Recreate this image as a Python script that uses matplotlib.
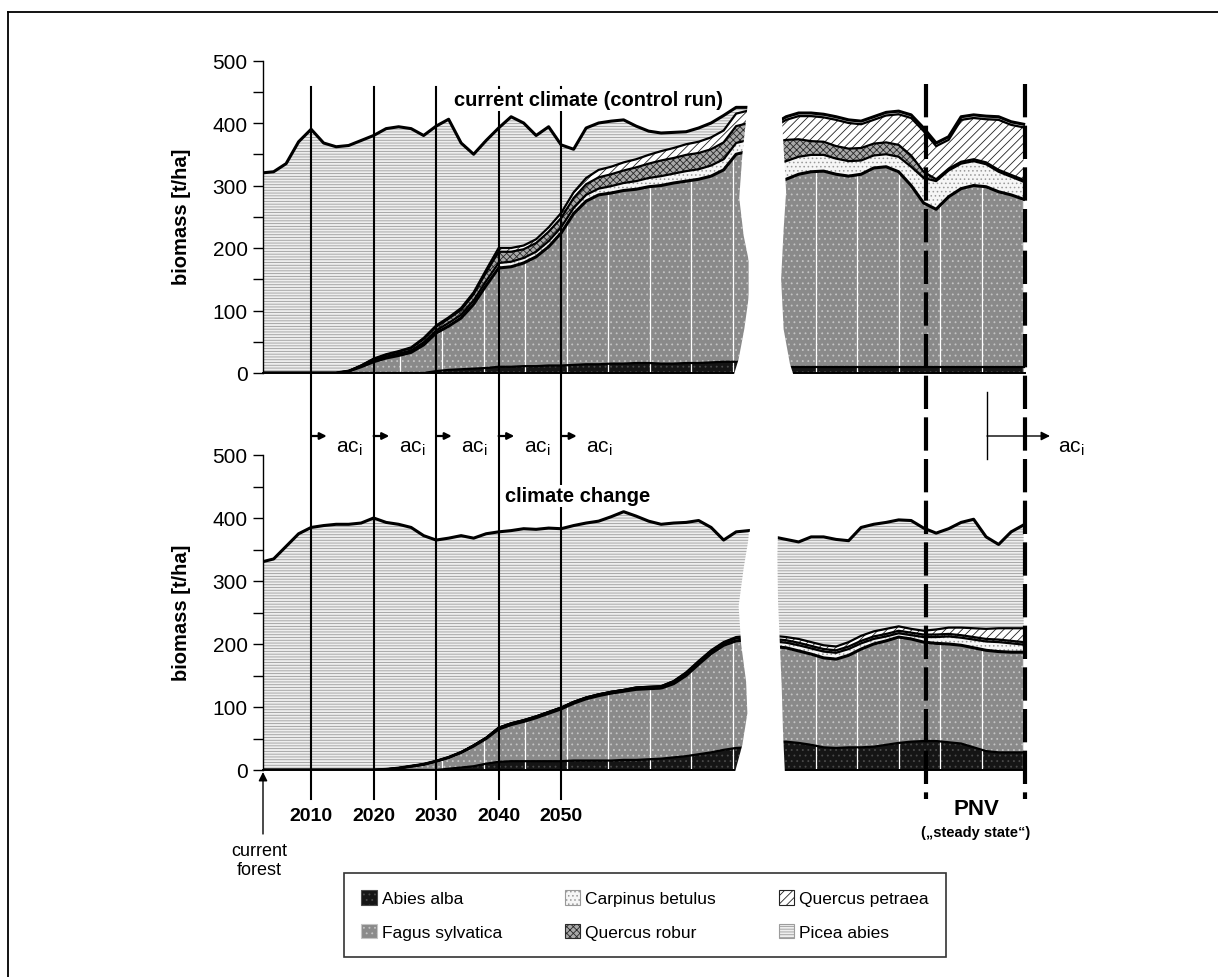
import numpy as np
import matplotlib.pyplot as plt
import matplotlib.transforms as mtrans
from matplotlib.patches import Patch, Polygon, FancyArrowPatch
from matplotlib.lines import Line2D
from matplotlib.path import Path

plt.rcParams['font.family'] = ['Liberation Sans', 'DejaVu Sans']
plt.rcParams['mathtext.default'] = 'regular'
plt.rcParams['hatch.linewidth'] = 0.6

# --- data -------------------------------------------------------------
species = ['Abies alba', 'Fagus sylvatica', 'Carpinus betulus',
           'Quercus robur', 'Quercus petraea', 'Picea abies']

years_a = np.arange(2002, 2081, 2)      # simulation until the break
years_b = np.arange(2084, 2125, 2)      # PNV period after the break

# current climate (control run), biomass t/ha
cc_abies_a = [0] * 14 + [3, 5, 6, 7, 8, 10, 10, 11, 11, 12, 12, 13, 14, 14, 15, 15,
                         16, 16, 15, 15, 16, 16, 17, 18, 18, 18]
cc_fagus_a = [0, 0, 0, 0, 0, 0, 0, 3, 10, 18, 24, 28, 33, 45, 61, 70, 82, 103, 132, 158,
              160, 165, 175, 190, 212, 242, 261, 271, 273, 277, 278, 282, 285, 289, 291,
              294, 298, 307, 332, 337]
cc_carpinus_a = [0] * 8 + [1, 2, 2, 3, 3, 4, 4, 5, 5, 6, 7, 8, 8, 8, 8, 9, 9, 9, 10, 10,
                           11, 12, 13, 14, 15, 15, 16, 16, 17, 17, 18, 18]
cc_qrobur_a = [0] * 8 + [1, 2, 3, 3, 4, 5, 6, 7, 8, 10, 14, 18, 16, 14, 14, 15, 15, 16,
                         17, 18, 19, 20, 22, 23, 25, 25, 26, 26, 26, 27, 27, 27]
cc_qpetraea_a = [0] * 9 + [1, 1, 1, 1, 2, 2, 2, 3, 3, 4, 6, 6, 6, 6, 7, 8, 9, 10, 12, 12,
                           13, 13, 14, 15, 16, 17, 18, 19, 19, 20, 20]
cc_picea_a = [320, 322, 335, 370, 390, 368, 362, 361, 360, 357, 361, 359, 350, 324, 319,
              317, 264, 221, 207, 192, 210, 196, 166, 161, 109, 69, 80, 75, 73, 68, 53,
              38, 29, 25, 20, 22, 23, 24, 10, 5]

cc_abies_b = [9] * 21
cc_fagus_b = [296, 301, 309, 313, 314, 309, 306, 309, 319, 321, 313, 291, 263, 253, 273,
              286, 291, 289, 281, 276, 269]
cc_carpinus_b = [29, 29, 28, 27, 26, 25, 24, 22, 20, 20, 24, 30, 40, 45, 42, 40, 39, 36,
                 32, 29, 28]
cc_qrobur_b = [35, 34, 28, 22, 21, 20, 20, 20, 19, 19, 19, 18, 10, 3, 3, 3, 3, 3, 3, 3, 3]
cc_qpetraea_b = [24, 32, 37, 40, 39, 42, 41, 38, 38, 43, 49, 60, 65, 53, 46, 67, 66, 69,
                 80, 80, 84]
cc_picea_b = [5] * 21

# climate change
ch_abies_a = [0] * 15 + [2, 4, 6, 10, 13, 14, 14, 14, 14, 14, 15, 15, 15, 15, 16, 16, 17,
                         18, 20, 22, 25, 28, 32, 35, 36]
ch_fagus_a = [0] * 10 + [1, 3, 6, 9, 14, 18, 24, 32, 40, 52, 58, 63, 69, 76, 83, 91, 98,
                         103, 107, 109, 112, 112, 112, 117, 128, 143, 157, 166, 170, 171]
ch_carpinus_a = [0] * 17 + [1, 1, 2, 2, 2, 2, 2, 2, 2, 2, 2, 2, 2, 2, 2, 2, 3, 3, 3, 3, 3,
                            4, 4]
ch_qrobur_a = [0] * 30 + [1] * 10
ch_qpetraea_a = [0] * 34 + [1] * 6
ch_picea_a = [330, 335, 355, 375, 385, 388, 390, 390, 392, 400, 392, 387, 379, 363, 351,
              348, 344, 329, 324, 311, 306, 304, 297, 292, 284, 280, 277, 275, 278, 283,
              272, 263, 257, 251, 238, 223, 195, 162, 167, 167]

ch_abies_b = [45, 45, 43, 40, 36, 35, 36, 36, 37, 40, 43, 45, 46, 46, 44, 42, 36, 30, 28,
              28, 28]
ch_fagus_b = [151, 149, 146, 144, 142, 141, 146, 156, 163, 165, 168, 163, 157, 155, 156,
              156, 158, 160, 160, 159, 159]
ch_carpinus_b = [8, 8, 9, 9, 10, 10, 10, 9, 8, 7, 6, 6, 8, 10, 12, 12, 13, 14, 15, 14, 12]
ch_qrobur_b = [4] * 21
ch_qpetraea_b = [5, 5, 6, 6, 6, 6, 7, 8, 8, 8, 7, 6, 6, 8, 10, 12, 14, 16, 18, 20, 22]
ch_picea_b = [157, 155, 154, 167, 172, 170, 161, 172, 170, 169, 169, 172, 163, 153, 157,
              167, 173, 146, 133, 153, 164]

decades = [2010, 2020, 2030, 2040, 2050]
pnv_start, pnv_end = 2108.4, 2124.2

# --- styles -----------------------------------------------------------
styles = {
    'Abies alba':       dict(fc='#151515', hatch='...', hc='#4a4a4a'),
    'Fagus sylvatica':  dict(fc='#8a8a8a', hatch='...', hc='#c4c4c4'),
    'Carpinus betulus': dict(fc='#f6f6f6', hatch='....', hc='#9a9a9a'),
    'Quercus robur':    dict(fc='#a8a8a8', hatch='xxxxx', hc='#2a2a2a'),
    'Quercus petraea':  dict(fc='#ffffff', hatch='////', hc='#222222'),
    'Picea abies':      dict(fc='#eeeeee', hatch='------', hc='#9c9c9c'),
}

W, H = 1218, 978


def fx(px):
    return px / W


def fy(py):
    return 1 - py / H


fig = plt.figure(figsize=(W / 100, H / 100), dpi=100)
ax_top = fig.add_axes([fx(263), fy(374), 762.5 / W, 312.5 / H])
ax_bot = fig.add_axes([fx(263), fy(771), 762.5 / W, 315 / H])


def draw_stack(ax, x, layers):
    base = np.zeros(len(x))
    tops = []
    for name, vals in zip(species, layers):
        top = base + np.array(vals, dtype=float)
        st = styles[name]
        ax.fill_between(x, base, top, facecolor=st['fc'], hatch=st['hatch'],
                        edgecolor=st['hc'], linewidth=0, zorder=1)
        tops.append(top)
        base = top
    for i, top in enumerate(tops):
        ax.plot(x, top, color='black', lw=2.2 if i in (1, 5) else 1.6, zorder=2,
                solid_joinstyle='round')
    # white vertical grid lines only visible in the Abies/Fagus part
    verts = np.concatenate([np.column_stack([x, tops[1]]),
                            np.column_stack([x[::-1], np.zeros(len(x))])])
    vl = ax.vlines(np.arange(2024.3, 2124, 6.64), 0, 500, color='white', lw=0.9,
                   zorder=1.5)
    vl.set_clip_path(Path(verts), ax.transData)


def setup(ax, ty, brk_left, brk_right):
    ax.set_xlim(2002.3, 2124.3)
    ax.set_ylim(0, 500)
    ax.set_xticks([])
    ax.set_yticks(range(0, 501, 100))
    ax.set_yticks(range(50, 500, 100), minor=True)
    ax.tick_params(axis='y', which='both', direction='out', length=7, width=1,
                   labelsize=15, pad=4)
    for s in ('top', 'right'):
        ax.spines[s].set_visible(False)
    ax.spines['left'].set_linewidth(1)
    ax.spines['bottom'].set_linewidth(1.4)
    ax.patch.set_alpha(0)
    brk = Polygon(brk_left + brk_right, closed=True, facecolor='white',
                  edgecolor='none', zorder=3, clip_on=False)
    ax.add_patch(brk)
    fig.text(fx(181), fy(ty), 'biomass [t/ha]', rotation=90, ha='center',
             va='center', fontsize=14.5, fontweight='bold')


draw_stack(ax_top, years_a, [cc_abies_a, cc_fagus_a, cc_carpinus_a, cc_qrobur_a,
                             cc_qpetraea_a, cc_picea_a])
draw_stack(ax_top, years_b, [cc_abies_b, cc_fagus_b, cc_carpinus_b, cc_qrobur_b,
                             cc_qpetraea_b, cc_picea_b])
draw_stack(ax_bot, years_a, [ch_abies_a, ch_fagus_a, ch_carpinus_a, ch_qrobur_a,
                             ch_qpetraea_a, ch_picea_a])
draw_stack(ax_bot, years_b, [ch_abies_b, ch_fagus_b, ch_carpinus_b, ch_qrobur_b,
                             ch_qpetraea_b, ch_picea_b])

# wavy white axis break between the two periods
setup(ax_top, 217,
      [(2080.3, 510), (2079.8, 425), (2079.0, 350), (2078.5, 280), (2079.2, 220),
       (2080.3, 166), (2080.0, 120), (2079.3, 70), (2078.4, 22), (2077.6, -4)],
      [(2087.2, -4), (2086.6, 15), (2085.6, 70), (2085.2, 150), (2085.6, 230),
       (2086.0, 290), (2085.6, 360), (2085.2, 430), (2085.3, 510)])
setup(ax_bot, 613,
      [(2080.4, 510), (2080.2, 380), (2079.2, 320), (2078.4, 260), (2078.8, 200),
       (2079.6, 140), (2079.8, 90), (2079.0, 40), (2077.8, -4)],
      [(2085.8, -4), (2085.5, 60), (2085.3, 130), (2085.0, 200), (2084.7, 270),
       (2084.6, 340), (2084.8, 420), (2085.0, 510)])

fig.text(fx(588), fy(101), 'current climate (control run)', ha='center', va='center',
         fontsize=14.5, fontweight='bold', zorder=7,
         bbox=dict(facecolor='white', edgecolor='none', pad=1))
fig.text(fx(578), fy(497), 'climate change', ha='center', va='center',
         fontsize=14.5, fontweight='bold', zorder=7,
         bbox=dict(facecolor='white', edgecolor='none', pad=1))

# vertical marker lines spanning both panels
blend = mtrans.blended_transform_factory(ax_top.transData, fig.transFigure)
for d in decades:
    fig.add_artist(Line2D([d, d], [fy(88), fy(800)], transform=blend, color='black',
                          lw=1.5, zorder=5))
    fig.add_artist(FancyArrowPatch((d, fy(437)), (d + 2.5, fy(437)), transform=blend,
                                   arrowstyle='-|>', mutation_scale=10, lw=1.6,
                                   shrinkA=0, shrinkB=0, color='black', zorder=6))
    fig.text(d + 4.0, fy(453), r'ac$_i$', transform=blend, ha='left', va='baseline',
             fontsize=15)
    fig.text(d, fy(817), str(d), transform=blend, ha='center', va='center',
             fontsize=14, fontweight='bold')

for d in (pnv_start, pnv_end):
    fig.add_artist(Line2D([d, d], [fy(85), fy(800)], transform=blend, color='black',
                          lw=3, linestyle=(0, (8, 2)), zorder=5))

# PNV annotation
fig.add_artist(Line2D([fx(987), fx(987)], [fy(393), fy(460)], color='black', lw=1,
                      zorder=6))
fig.add_artist(FancyArrowPatch((fx(987), fy(437)), (fx(1050), fy(437)),
                               transform=fig.transFigure, arrowstyle='-|>',
                               mutation_scale=13, lw=1, shrinkA=0, shrinkB=0,
                               color='black', zorder=6))
fig.text(fx(1058), fy(453), r'ac$_i$', ha='left', va='baseline', fontsize=15)
fig.text(fx(976), fy(810), 'PNV', ha='center', va='center', fontsize=16,
         fontweight='bold')
fig.text(fx(976), fy(833), '(\u201esteady state\u201c)', ha='center', va='center',
         fontsize=10.5, fontweight='bold')

# current forest
fig.add_artist(FancyArrowPatch((fx(263), fy(835)), (fx(263), fy(773)),
                               transform=fig.transFigure, arrowstyle='-|>',
                               mutation_scale=13, lw=1, shrinkA=0, shrinkB=0,
                               color='black', zorder=6))
fig.text(fx(259), fy(861), 'current\nforest', ha='center', va='center', fontsize=13,
         linespacing=1.1)

# legend
handles = [Patch(facecolor=styles[s]['fc'], hatch=styles[s]['hatch'],
                 edgecolor=styles[s]['hc'], linewidth=0.8) for s in species]
leg = fig.legend(handles, species, loc='center', bbox_to_anchor=(fx(645), fy(916)),
                 ncol=3, fontsize=12.5, frameon=True, fancybox=False, edgecolor='black',
                 handlelength=0.9, handleheight=0.9, handletextpad=0.3,
                 columnspacing=3.6, borderpad=1.0, labelspacing=1.0)
leg.get_frame().set_linewidth(1.2)

# outer frame
fig.add_artist(Line2D([fx(8), fx(8)], [fy(13), 0], color='black', lw=1.3))
fig.add_artist(Line2D([fx(8), 1], [fy(13), fy(13)], color='black', lw=1.3))

fig.savefig('out.png', dpi=100)
